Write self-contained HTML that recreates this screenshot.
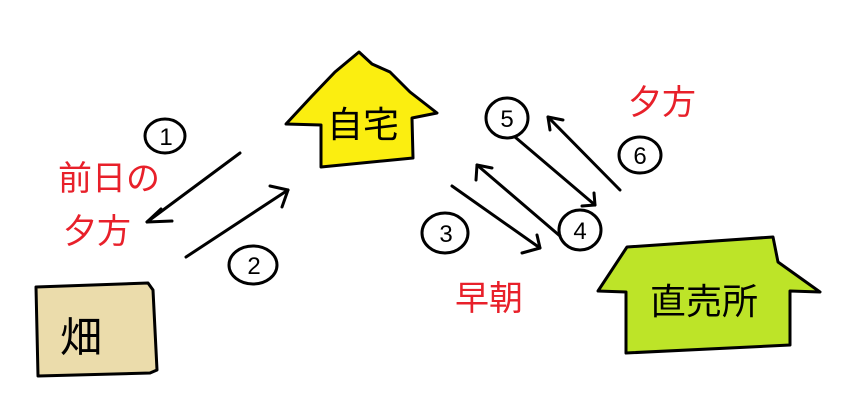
<!DOCTYPE html>
<html><head><meta charset="utf-8"><style>
html,body{margin:0;padding:0;background:#fff;}
svg{display:block;}
text{font-family:"Liberation Sans","Noto Sans CJK JP",sans-serif;}
</style></head><body>
<svg width="846" height="416" viewBox="0 0 846 416" xmlns="http://www.w3.org/2000/svg">
<g stroke="#000" stroke-width="3" stroke-linejoin="round" stroke-linecap="round" fill="none">
<!-- yellow house -->
<path d="M359,52 L372,64 L390,72 L410,92 L437,113 L412,118 L413,158 L321,167 L321,125 L286,124 L312,96 L335,72 Z" fill="#fbee10"/>
<!-- field -->
<path d="M36,287 L148,283 L153,290 L157,370 L150,373 L38,376 Z" fill="#ebdcab"/>
<!-- green house -->
<path d="M627,247 L773,237 L778,262 L820,292 L790,291 L790,345 L626,353 L626,292 L598,291 Z" fill="#bde428"/>
<!-- arrows left -->
<path d="M240,153 L147,222"/><path d="M161,209 L147,222 L172,221"/>
<path d="M186,257 L288,190"/><path d="M270,186 L288,190 L282,207"/>
<!-- arrows right -->
<path d="M452,186 L540,248"/><path d="M537,235 L540,248 L522,253"/>
<path d="M560,236 L477,165"/><path d="M476,180 L477,165 L492,168"/>
<path d="M515,137 L595,205"/><path d="M594,193 L595,205 L582,206"/>
<path d="M620,190 L548,117"/><path d="M550,130 L548,117 L563,120"/>
<!-- circles -->
<ellipse cx="165" cy="136" rx="20" ry="17"/>
<ellipse cx="253" cy="265" rx="24" ry="19"/>
<ellipse cx="445" cy="233" rx="23" ry="20"/>
<ellipse cx="580" cy="230" rx="21" ry="20"/>
<ellipse cx="507" cy="118" rx="21" ry="20"/>
<ellipse cx="640" cy="155" rx="21" ry="18"/>
</g>
<g font-size="24" text-anchor="middle" fill="#000">
<text x="166" y="145">1</text>
<text x="254" y="274">2</text>
<text x="446" y="242">3</text>
<text x="580" y="239">4</text>
<text x="507" y="127">5</text>
<text x="640" y="164">6</text>
</g>
<g fill="#000" font-size="36">
<text x="327" y="137">自宅</text>
<text x="60" y="352" font-size="42">畑</text>
<text x="650" y="314">直売所</text>
</g>
<g fill="#e8202a" font-size="34">
<text x="58" y="190">前日の</text>
<text x="63" y="243">夕方</text>
<text x="628" y="114">夕方</text>
<text x="455" y="310">早朝</text>
</g>
</svg>
</body></html>
